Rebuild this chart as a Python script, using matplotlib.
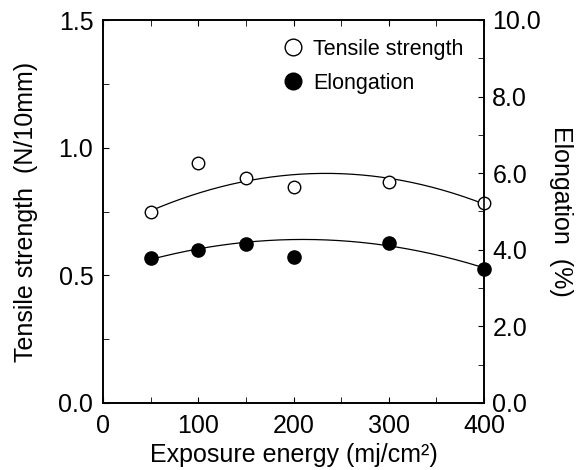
import numpy as np
import matplotlib.pyplot as plt
from matplotlib.ticker import MultipleLocator

plt.rcParams['font.family'] = ['Liberation Sans', 'DejaVu Sans']

# exposure energy (mj/cm2)
energy = [50, 100, 150, 200, 300, 400]
# tensile strength (N/10mm), left axis
tensile = [0.747, 0.939, 0.882, 0.847, 0.867, 0.785]
# elongation (%), right axis
elong = [3.79, 3.99, 4.15, 3.82, 4.17, 3.50]
# points the hand-drawn trend curves go through
tensile_fit_idx = [0, 2, 4, 5]
elong_fit_idx = [0, 1, 2, 4, 5]

fig = plt.figure(figsize=(5.85, 4.7), dpi=100)
ax = fig.add_axes([103 / 585, 1 - 403 / 470, 381 / 585, 383 / 470])
ax2 = ax.twinx()

xs = np.linspace(50, 400, 200)
e = np.array(energy)
t = np.array(tensile)
el = np.array(elong)
ct = np.polyfit(e[tensile_fit_idx], t[tensile_fit_idx], 2)
ce = np.polyfit(e[elong_fit_idx], el[elong_fit_idx], 2)

ax.plot(xs, np.polyval(ct, xs), color='black', lw=0.9, zorder=2)
ax.plot(energy, tensile, 'o', ms=9, mfc='white', mec='black', mew=1.0,
        clip_on=False, zorder=3)
ax2.plot(xs, np.polyval(ce, xs), color='black', lw=0.9, zorder=2)
ax2.plot(energy, elong, 'o', ms=9.5, mfc='black', mec='black',
         clip_on=False, zorder=3)

ax.set_xlim(0, 400)
ax.set_ylim(0, 1.5)
ax2.set_ylim(0, 10)

ax.xaxis.set_major_locator(MultipleLocator(100))
ax.xaxis.set_minor_locator(MultipleLocator(50))
ax.yaxis.set_major_locator(MultipleLocator(0.5))
ax.yaxis.set_minor_locator(MultipleLocator(0.25))
ax2.yaxis.set_major_locator(MultipleLocator(2))
ax2.yaxis.set_minor_locator(MultipleLocator(1))

ax.tick_params(axis='x', which='both', direction='in', top=True, length=4,
               labelsize=18, pad=8)
ax.tick_params(axis='y', which='both', direction='in', length=4, labelsize=18, pad=7)
ax2.tick_params(axis='y', which='both', direction='in', length=4, labelsize=18, pad=6)

ax.yaxis.set_major_formatter(lambda v, p: f"{v:.1f}")
ax2.yaxis.set_major_formatter(lambda v, p: f"{v:.1f}")

for a in (ax, ax2):
    for s in a.spines.values():
        s.set_linewidth(1.2)

ax.set_xlabel('Exposure energy (mj/cm²)', fontsize=18)
ax.set_ylabel('Tensile strength  (N/10mm)', fontsize=18)
ax2.set_ylabel('Elongation  (%)', fontsize=18, rotation=-90)
ax.xaxis.set_label_coords(0.5, -(455 - 403) / 383, transform=ax.transAxes)
ax.xaxis.label.set_va('center')
ax.yaxis.set_label_coords(-(103 - 26) / 381, 0.5)
ax.yaxis.label.set_va('center')
ax2.yaxis.set_label_coords(1 + (561 - 484) / 381, 0.5)
ax2.yaxis.label.set_va('center')

# legend
h1, = ax.plot([], [], 'o', ms=12, mfc='white', mec='black', mew=1.0)
h2, = ax.plot([], [], 'o', ms=12, mfc='black', mec='black')
ax.legend([h1, h2], ['Tensile strength', 'Elongation'], loc='upper left',
          bbox_to_anchor=(0.43, 0.99), frameon=False, fontsize=15.5,
          handletextpad=0.45, handlelength=1.0, labelspacing=0.6,
          borderaxespad=0.3)

fig.savefig('out.png', dpi=100)
